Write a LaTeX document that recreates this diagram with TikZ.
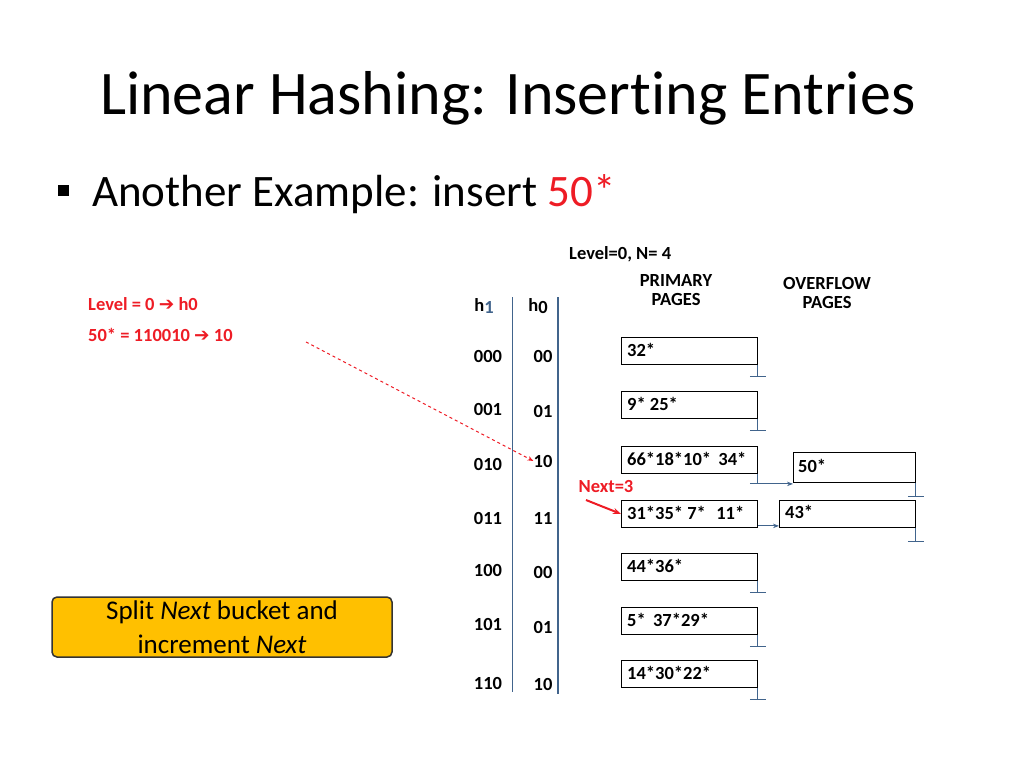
\documentclass[tikz,border=0pt]{standalone}
\usepackage{fontspec}
\setmainfont{Carlito}[Ligatures=NoCommon]
\newfontfamily\djvfont{DejaVu Sans}
\usetikzlibrary{arrows.meta}
\definecolor{bl}{HTML}{41648C}
\definecolor{rd}{HTML}{EE1C25}
\begin{document}
\begin{tikzpicture}[x=1pt,y=-1pt,
 lab/.style={font=\bfseries\fontsize{18.5}{19}\selectfont,inner sep=0pt},
 pg/.style={draw,line width=0.9pt,minimum width=136pt,minimum height=27pt,anchor=north west,inner sep=0pt},
 gnd/.style={bl,line width=1pt},
 ptr/.style={bl,line width=1pt,-{Stealth[length=6pt]}}]
\useasboundingbox (0,0) rectangle (1024,768);
\node[anchor=west,inner sep=0pt,font=\fontsize{62}{66}\selectfont] (t) at (100,98) {Linear Hashing: Inserting Entries};
\fill (58,185) rectangle (69,196);
\node[anchor=west,inner sep=0pt,font=\fontsize{45}{48}\selectfont] (s) at (92,194) {Another Example: insert \textcolor{rd}{50*}};
\node[lab,anchor=west] (lv) at (569,254) {Level=0, N= 4};
\node[lab,align=center] (pp) at (676,290) {PRIMARY\\PAGES};
\node[lab,align=center] (op) at (827,293) {OVERFLOW\\PAGES};
\node[lab,anchor=west,rd] (l1) at (88,304) {Level = 0 {\djvfont ➔} h0};
\node[lab,anchor=west,rd] (l2) at (88,335) {50* = 110010 {\djvfont ➔} 10};
\node[lab] (h1) at (484,306) {h\textcolor{bl}{\raisebox{-2pt}{1}}};
\node[lab] (h0) at (538,306) {h\raisebox{-2pt}{0}};
\draw[bl,line width=1pt] (512,297) -- (512,692);
\draw[bl,line width=2.2pt] (558,297) -- (558,694);
\foreach \a/\b/\ya/\yb [count=\i] in {000/00/356/356,001/01/409/411,010/10/464/461,011/11/518/518,100/00/570/572,101/01/624/627,110/10/683/684}{
 \node[lab] (a\i) at (488,\ya) {\a};
 \node[lab] (b\i) at (543,\yb) {\b};
}
\foreach \y/\t [count=\i] in {337/32*,391/9* 25*,446/66*18*10*\, 34*,500/31*35* 7*\,\, 11*,553/44*36*,607/5*\, 37*29*,660/14*30*22*}{
 \node[pg] (p\i) at (621,\y) {};
 \node[lab,anchor=west] (pt\i) at (627,\y+13) {\t};
}
\foreach \i in {1,2,5,6,7}{
 \draw[gnd] (p\i.south east) -- ++(0,12) coordinate (g\i);
 \draw[gnd] ([xshift=-8]g\i) -- ([xshift=8]g\i);
}
\node[draw,line width=0.9pt,minimum width=122pt,minimum height=30pt,anchor=north west] (o1) at (793,452) {};
\node[lab,anchor=west] (ot1) at (798,466) {50*};
\node[draw,line width=0.9pt,minimum width=136pt,minimum height=27pt,anchor=north west] (o2) at (779,500) {};
\node[lab,anchor=west] (ot2) at (785,512) {43*};
\draw[gnd] (p3.south east) -- ++(0,10) coordinate (c3);
\draw[gnd] ([xshift=-8]c3) -- (c3);
\draw[ptr] (c3) -- (o1.south west|-c3);
\draw[ptr] (p4.south east)++(0,-2) coordinate (c4) -- (o2.south west|-c4);
\foreach \o in {o1,o2}{
 \draw[gnd] (\o.south east) -- ++(0,14) coordinate (g\o);
 \draw[gnd] ([xshift=-8]g\o) -- ([xshift=8]g\o);
}
\coordinate (ds) at (306,342);
\draw[rd,dashed,line width=1pt,-{Stealth[length=6pt]}] (ds) -- (b3.west);
\node[lab,rd] (nx) at (606,486) {Next=3};
\draw[rd,line width=2pt,-{Stealth[length=8pt]}] (586,500) -- (p4.west);
\node[draw=black!80,line width=1.5pt,fill={rgb,255:red,255;green,192;blue,0},rounded corners=5pt,minimum width=340pt,minimum height=60pt,align=center,font=\fontsize{27}{34}\selectfont] (yb) at (222,627) {Split \textit{Next} bucket and\\increment \textit{Next}};
\end{tikzpicture}
\end{document}
